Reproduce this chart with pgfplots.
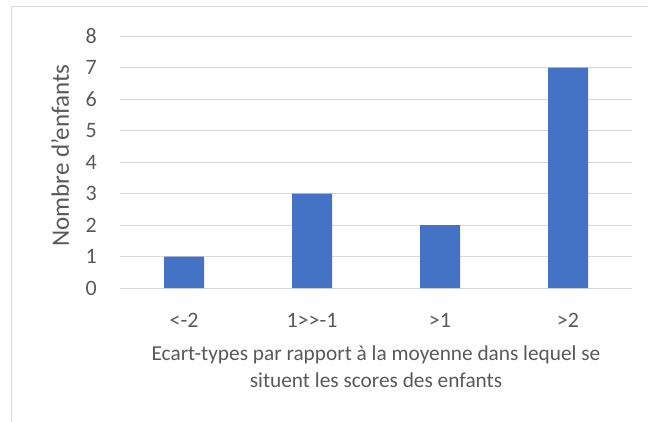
\documentclass[border=0pt]{standalone}
\usepackage{pgfplots}
\pgfplotsset{compat=1.18}
\usepackage{fontspec}
\setmainfont{Carlito}
\definecolor{barblue}{HTML}{4472C4}
\definecolor{gridgray}{HTML}{D9D9D9}
\definecolor{textgray}{HTML}{595959}
\newcommand{\tk}{\fontsize{22}{26}\selectfont}
\begin{document}
\begin{tikzpicture}[x=1pt,y=1pt]
\path[use as bounding box] (0,0) rectangle (648,421);
\draw[gridgray, line width=1pt] (11,-10) -- (11,414) -- (700,414);
\begin{axis}[
  at={(120pt,133pt)}, anchor=south west,
  scale only axis, width=512pt, height=252pt,
  xmin=-0.5, xmax=3.5, ymin=0, ymax=8,
  ytick={0,1,...,8},
  yticklabels={{\tk 0},{\tk 1},{\tk 2},{\tk 3},{\tk 4},{\tk 5},{\tk 6},{\tk 7},{\tk 8}},
  xtick=data,
  xticklabels={{\tk <-2},{\tk 1{>}{>}-1},{\tk >1},{\tk >2}},
  axis line style={draw=none},
  major tick length=0pt,
  ymajorgrids, major grid style={gridgray, line width=1pt},
  xticklabel style={text=textgray, anchor=base, yshift=-39pt, inner sep=0pt},
  yticklabel style={text=textgray, anchor=east, xshift=-23pt, inner sep=0pt},
  ylabel={Nombre d'enfants},
  ylabel style={at={(axis description cs:-0.117,0.525)}, anchor=center, rotate=0, font=\fontsize{25}{30}\selectfont, text=textgray, inner sep=0pt},
  xlabel={Ecart-types par rapport à la moyenne dans lequel se\\situent les scores des enfants},
  xlabel style={at={(axis description cs:0.5,-0.228)}, anchor=north, align=center, font=\fontsize{21.3}{27.5}\selectfont, text=textgray, inner sep=0pt},
]
\addplot[ybar, bar width=40pt, fill=barblue, draw=none] coordinates {(0,1) (1,3) (2,2) (3,7)};
\end{axis}
\end{tikzpicture}
\end{document}
